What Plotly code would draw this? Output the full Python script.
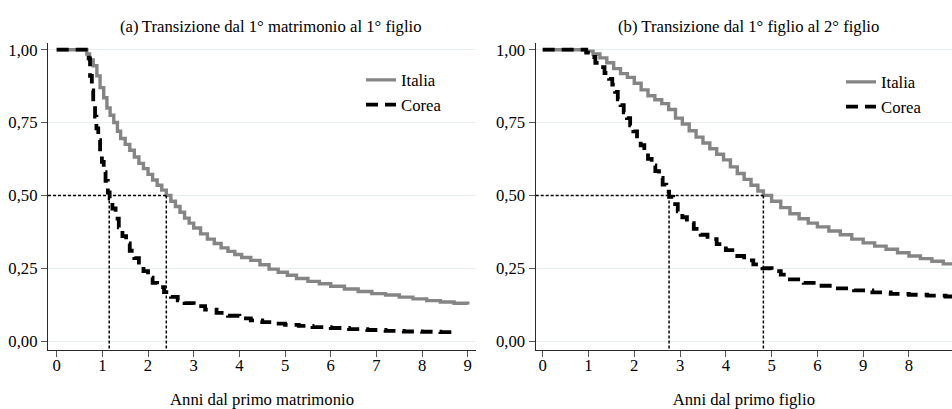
import plotly.graph_objects as go

# Kaplan-Meier survival estimates (time in years, survival probability)
# (a) first marriage -> first child
a_ita_t = [0, 0.66, 0.72, 0.80, 0.88, 0.95, 1.03, 1.10, 1.17, 1.25, 1.33, 1.40, 1.50, 1.60,
           1.70, 1.80, 1.90, 2.00, 2.10, 2.20, 2.30, 2.40, 2.50, 2.60, 2.70, 2.80, 2.90, 3.00,
           3.15, 3.30, 3.45, 3.60, 3.75, 3.90, 4.05, 4.25, 4.45, 4.65, 4.85, 5.05, 5.25, 5.50,
           5.75, 6.00, 6.30, 6.60, 6.90, 7.20, 7.50, 7.80, 8.10, 8.40, 8.70, 9.00]
a_ita_s = [1.0, 0.985, 0.965, 0.945, 0.91, 0.87, 0.835, 0.80, 0.775, 0.75, 0.72, 0.695, 0.675,
           0.655, 0.632, 0.61, 0.592, 0.572, 0.553, 0.535, 0.518, 0.50, 0.48, 0.462, 0.442,
           0.422, 0.405, 0.388, 0.368, 0.35, 0.335, 0.32, 0.308, 0.297, 0.287, 0.277, 0.262,
           0.247, 0.236, 0.226, 0.215, 0.205, 0.197, 0.188, 0.179, 0.17, 0.163, 0.158, 0.151,
           0.145, 0.139, 0.134, 0.13, 0.126]

a_kor_t = [0, 0.70, 0.73, 0.77, 0.80, 0.84, 0.87, 0.91, 0.95, 0.99, 1.03, 1.07, 1.12, 1.16,
           1.22, 1.29, 1.36, 1.44, 1.52, 1.60, 1.70, 1.80, 1.90, 2.00, 2.10, 2.20, 2.35, 2.50,
           2.65, 2.80, 3.00, 3.25, 3.50, 3.75, 4.00, 4.25, 4.50, 4.75, 5.00, 5.30, 5.60, 6.00,
           6.40, 6.80, 7.20, 7.60, 8.00, 8.40, 8.70]
a_kor_s = [1.0, 0.97, 0.91, 0.86, 0.81, 0.77, 0.73, 0.69, 0.65, 0.615, 0.58, 0.55, 0.51, 0.49,
           0.455, 0.42, 0.39, 0.36, 0.335, 0.31, 0.285, 0.262, 0.24, 0.218, 0.20, 0.185, 0.168,
           0.152, 0.14, 0.13, 0.12, 0.108, 0.097, 0.087, 0.078, 0.071, 0.065, 0.06, 0.056,
           0.052, 0.048, 0.045, 0.041, 0.038, 0.035, 0.033, 0.032, 0.031, 0.03]

# (b) first child -> second child
b_ita_t = [0, 0.95, 1.10, 1.25, 1.40, 1.55, 1.70, 1.85, 2.00, 2.15, 2.30, 2.45, 2.60, 2.75,
           2.90, 3.05, 3.20, 3.35, 3.50, 3.65, 3.80, 3.95, 4.10, 4.25, 4.40, 4.55, 4.70, 4.82,
           5.00, 5.20, 5.40, 5.60, 5.80, 6.00, 6.25, 6.50, 6.75, 7.00, 7.25, 7.50, 7.75, 8.00,
           8.25, 8.50, 8.75, 9.00, 9.20]
b_ita_s = [1.0, 0.995, 0.985, 0.972, 0.955, 0.935, 0.918, 0.905, 0.885, 0.862, 0.842, 0.828,
           0.815, 0.795, 0.765, 0.745, 0.722, 0.70, 0.68, 0.66, 0.641, 0.622, 0.598, 0.575,
           0.555, 0.535, 0.515, 0.50, 0.48, 0.458, 0.437, 0.42, 0.405, 0.392, 0.378, 0.365,
           0.35, 0.337, 0.326, 0.315, 0.303, 0.292, 0.283, 0.274, 0.265, 0.258, 0.252]

b_kor_t = [0, 0.95, 1.05, 1.15, 1.25, 1.35, 1.45, 1.52, 1.58, 1.64, 1.70, 1.77, 1.84, 1.91,
           1.98, 2.06, 2.14, 2.22, 2.30, 2.38, 2.46, 2.54, 2.62, 2.70, 2.76, 2.85, 2.95, 3.05,
           3.15, 3.30, 3.45, 3.60, 3.80, 4.00, 4.20, 4.40, 4.60, 4.80, 5.00, 5.20, 5.40, 5.70,
           6.00, 6.40, 6.80, 7.20, 7.60, 8.00, 8.40, 8.80, 9.20]
b_kor_s = [1.0, 0.99, 0.975, 0.955, 0.94, 0.92, 0.90, 0.88, 0.855, 0.83, 0.81, 0.785, 0.765,
           0.74, 0.72, 0.695, 0.672, 0.648, 0.625, 0.603, 0.583, 0.56, 0.537, 0.513, 0.495,
           0.47, 0.445, 0.425, 0.405, 0.385, 0.365, 0.35, 0.333, 0.312, 0.292, 0.277, 0.263,
           0.25, 0.24, 0.228, 0.212, 0.20, 0.19, 0.181, 0.174, 0.167, 0.162, 0.159, 0.156,
           0.153, 0.15]

# median survival times (where S(t) = 0.5)
a_medians = {"Italia": 2.40, "Corea": 1.15}
b_medians = {"Italia": 4.82, "Corea": 2.76}

panel_titles = ["(a)\u2009Transizione dal 1° matrimonio al 1° figlio",
                "(b) Transizione dal 1° figlio al 2° figlio"]
x_titles = ["Anni dal primo matrimonio", "Anni dal primo figlio"]
x_tickvals = list(range(10))
a_ticktext = ["0", "1", "2", "3", "4", "5", "6", "7", "8", "9"]
b_ticktext = ["0", "1", "2", "3", "4", "5", "6", "9", "8", "9"]
y_tickvals = [0, 0.25, 0.5, 0.75, 1.0]

FONT = "Liberation Serif, Times New Roman, serif"
FS = 16.7
GREY = "#858585"
GRID = "#e7eef0"

a_xrange = [-0.19, 9.18]
b_xrange = [-0.153, 8.94]
y_range = [-0.031, 1.024]

fig = go.Figure()

def add_panel(xa, ya, legend, t_ita, s_ita, t_kor, s_kor, medians, xrange):
    fig.add_trace(go.Scatter(x=t_ita, y=s_ita, mode="lines", line_shape="hv", name="Italia",
                             line=dict(color=GREY, width=3.4), xaxis=xa, yaxis=ya,
                             legend=legend))
    fig.add_trace(go.Scatter(x=t_kor, y=s_kor, mode="lines", line_shape="hv", name="Corea",
                             line=dict(color="black", width=3.8, dash="12px,7px"),
                             xaxis=xa, yaxis=ya, legend=legend))
    # dotted guides at the median survival times
    m_hi = max(medians.values())
    guide = dict(color="black", width=1.5, dash="3px,2px")
    fig.add_trace(go.Scatter(x=[xrange[0], m_hi], y=[0.5, 0.5], mode="lines", line=guide,
                             xaxis=xa, yaxis=ya, showlegend=False, hoverinfo="skip"))
    for m in medians.values():
        fig.add_trace(go.Scatter(x=[m, m], y=[0.5, y_range[0]], mode="lines", line=guide,
                                 xaxis=xa, yaxis=ya, showlegend=False, hoverinfo="skip"))

add_panel("x", "y", "legend", a_ita_t, a_ita_s, a_kor_t, a_kor_s, a_medians, a_xrange)
add_panel("x2", "y2", "legend2", b_ita_t, b_ita_s, b_kor_t, b_kor_s, b_medians, b_xrange)

axis_common = dict(showline=True, linecolor="#2a2a2a", linewidth=1.3, ticks="outside",
                   ticklen=6, tickwidth=1.2, tickcolor="#555555", zeroline=False,
                   tickfont=dict(family=FONT, size=FS, color="black"))

fig.update_layout(
    width=952, height=409,
    margin=dict(l=0, r=0, t=0, b=0),
    paper_bgcolor="white", plot_bgcolor="white",
    separators=",.",
    font=dict(family=FONT, size=FS, color="black"),
    xaxis=dict(domain=[48 / 952, 476 / 952], range=a_xrange, tickvals=x_tickvals,
               ticktext=a_ticktext, showgrid=False, anchor="y", ticklabelstandoff=-6,
               title=dict(text=x_titles[0], standoff=21, font=dict(family=FONT, size=FS)),
               **axis_common),
    yaxis=dict(domain=[(409 - 350.7) / 409, (409 - 41) / 409], range=y_range,
               tickvals=y_tickvals, tickformat=".2f", showgrid=True, gridcolor=GRID,
               gridwidth=1.2, anchor="x", **axis_common),
    xaxis2=dict(domain=[535.7 / 952, 1.0], range=b_xrange, tickvals=x_tickvals,
                ticktext=b_ticktext, showgrid=False, anchor="y2", ticklabelstandoff=-6,
                title=dict(text=x_titles[1], standoff=21, font=dict(family=FONT, size=FS)),
                **axis_common),
    yaxis2=dict(domain=[(409 - 350.7) / 409, (409 - 41) / 409], range=y_range,
                tickvals=y_tickvals, tickformat=".2f", showgrid=True, gridcolor=GRID,
                gridwidth=1.2, anchor="x2", **axis_common),
    legend=dict(x=361 / 952, y=(409 - 61) / 409, xanchor="left", yanchor="top",
                bgcolor="rgba(0,0,0,0)", itemwidth=30, tracegroupgap=0,
                font=dict(family=FONT, size=FS)),
    legend2=dict(x=841 / 952, y=(409 - 63) / 409, xanchor="left", yanchor="top",
                 bgcolor="rgba(0,0,0,0)", itemwidth=30, tracegroupgap=0,
                 font=dict(family=FONT, size=FS)),
)

for title, xc in zip(panel_titles, [271, 748]):
    fig.add_annotation(text=title, x=xc / 952, y=(409 - 25) / 409, xref="paper",
                       yref="paper", xanchor="center", yanchor="middle", showarrow=False,
                       font=dict(family=FONT, size=FS, color="black"))

fig.write_html("out.html")
